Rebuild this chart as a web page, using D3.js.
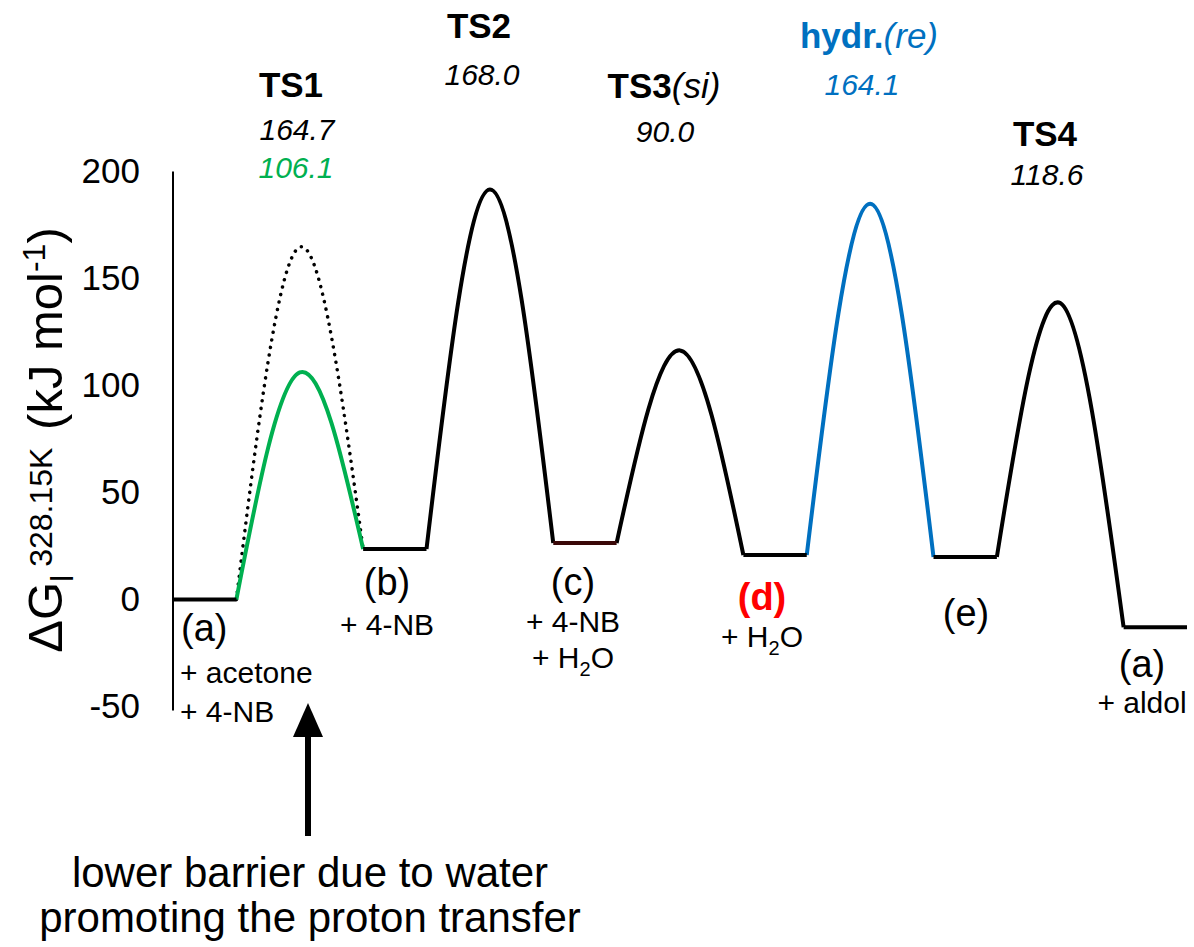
<!DOCTYPE html>
<html>
<head>
<meta charset="utf-8">
<script src="https://cdn.jsdelivr.net/npm/d3@7"></script>
<style>
  body { margin: 0; background: #fff; }
  text { font-family: "Liberation Sans", Arial, sans-serif; }
</style>
</head>
<body>
<div id="container"></div>
<script>
// intermediates (kJ/mol), in order along the reaction coordinate
const levelNames = ["(a)", "(b)", "(c)", "(d)", "(e)", "(a)"];
const levelEnergies = [0, 23.6, 26.4, 20.8, 19.9, -13.0];
const levelExtras = [["+ acetone", "+ 4-NB"], ["+ 4-NB"], ["+ 4-NB", "+ H|2|O"], ["+ H|2|O"], [], ["+ aldol"]];

// transition states: barrier measured from the preceding intermediate
const tsNames = ["TS1", "TS2", "TS3", "hydr.", "TS4"];
const tsTags = ["", "", "(si)", "(re)", ""];
const tsBarriers = [164.7, 168.0, 90.0, 164.1, 118.6];
const ts1WaterBarrier = 106.1;

const yTicks = [-50, 0, 50, 100, 150, 200];

const w = 1194, h = 947;
const black = "#000", green = "#00B050", blue = "#0070C0", red = "#FF0000";
const tsColors = [black, black, black, blue, black];
const levelColors = [black, black, "#3a0808", black, black, black];

const svg = d3.select("#container").append("svg").attr("width", w).attr("height", h);

const xScale = d3.scaleLinear().domain([0, 16]).range([173, 1187]);
const yScale = d3.scaleLinear().domain([-50, 200]).range([706.5, 171.5]);

// y axis
const yAxis = d3.axisLeft(yScale).tickValues(yTicks).tickSize(0).tickPadding(33).tickFormat(d => String(d));
const yAxisGroup = svg.append("g").attr("transform", `translate(${xScale(0)},0)`).call(yAxis);
yAxisGroup.select(".domain").remove();
yAxisGroup.selectAll("text").attr("font-size", 35).attr("font-family", "Liberation Sans, Arial").attr("fill", black);
yAxisGroup.append("line")
  .attr("y1", yScale(200)).attr("y2", yScale(-50) + 4)
  .attr("stroke", black).attr("stroke-width", 2);

// axis title
const title = svg.append("text")
  .attr("transform", `translate(62,440) rotate(-90)`)
  .attr("text-anchor", "middle").attr("font-size", 49).attr("fill", black);
title.append("tspan").text("ΔG");
title.append("tspan").attr("font-size", 32).attr("dy", 11).text("l");
title.append("tspan").attr("font-size", 32).attr("dx", 8).attr("dy", -21).text("328.15K");
title.append("tspan").attr("dx", 4).attr("dy", 10).text(" (kJ mol");
title.append("tspan").attr("font-size", 32).attr("dy", -17).text("-1");
title.append("tspan").attr("dy", 17).text(")");

const line = d3.line().x(d => xScale(d[0])).y(d => yScale(d[1])).curve(d3.curveNatural);

// barrier curves
const barriers = tsBarriers.map((b, i) => [
  [3 * i + 1, levelEnergies[i]],
  [3 * i + 2, levelEnergies[i] + b],
  [3 * i + 3, levelEnergies[i + 1]]
]);

// uncatalysed TS1 (dotted)
svg.append("path")
  .attr("d", line(barriers[0]))
  .attr("fill", "none").attr("stroke", black).attr("stroke-width", 3.5)
  .attr("stroke-linecap", "round").attr("stroke-dasharray", "0.1 7.6");

// water-assisted TS1
svg.append("path")
  .attr("d", line([barriers[0][0], [2, levelEnergies[0] + ts1WaterBarrier], barriers[0][2]]))
  .attr("fill", "none").attr("stroke", green).attr("stroke-width", 4);

svg.selectAll(".barrier")
  .data(barriers.slice(1))
  .enter().append("path")
  .attr("class", "barrier")
  .attr("d", d => line(d))
  .attr("fill", "none")
  .attr("stroke", (d, i) => tsColors[i + 1])
  .attr("stroke-width", 4);

// intermediate plateaus
svg.selectAll(".level")
  .data(levelEnergies)
  .enter().append("line")
  .attr("class", "level")
  .attr("x1", (d, i) => xScale(3 * i))
  .attr("x2", (d, i) => xScale(3 * i + 1))
  .attr("y1", d => yScale(d)).attr("y2", d => yScale(d))
  .attr("stroke", (d, i) => levelColors[i])
  .attr("stroke-width", 4);

// intermediate labels
const levelLabelPos = [[181, 641], [387, 595], [573, 595], [762, 610], [966, 626], [1142, 677]];
const extraRows = [[683, 722], [635], [632, 668], [647], [], [713]];

levelNames.forEach((name, i) => {
  const [lx, ly] = levelLabelPos[i];
  const anchor = i === 0 ? "start" : "middle";
  svg.append("text")
    .attr("x", lx).attr("y", ly).attr("text-anchor", anchor)
    .attr("font-size", 38)
    .attr("font-weight", i === 3 ? "bold" : "normal")
    .attr("fill", i === 3 ? red : black)
    .text(name);
  levelExtras[i].forEach((s, j) => {
    const t = svg.append("text")
      .attr("x", i === 0 ? lx - 1 : lx).attr("y", extraRows[i][j])
      .attr("text-anchor", anchor).attr("font-size", 30).attr("fill", black);
    const parts = s.split("|");
    t.append("tspan").text(parts[0]);
    if (parts.length > 1) {
      t.append("tspan").attr("font-size", 20).attr("dy", 8).text(parts[1]);
      t.append("tspan").attr("dy", -8).text(parts[2]);
    }
  });
});

// transition state labels
const tsLabelPos = [[291, 97], [479, 38], [664, 98], [869, 48], [1045, 146]];
const tsValuePos = [[297, 140], [482, 85], [665, 142], [862, 95], [1047, 185]];
const fmt = d3.format(".1f");

tsNames.forEach((name, i) => {
  const col = i === 3 ? blue : black;
  const t = svg.append("text")
    .attr("x", tsLabelPos[i][0]).attr("y", tsLabelPos[i][1])
    .attr("text-anchor", "middle").attr("font-size", 35).attr("fill", col);
  t.append("tspan").attr("font-weight", "bold").text(name);
  if (tsTags[i]) t.append("tspan").attr("font-style", "italic").text(tsTags[i]);
  svg.append("text")
    .attr("x", tsValuePos[i][0]).attr("y", tsValuePos[i][1])
    .attr("text-anchor", "middle").attr("font-size", 30).attr("font-style", "italic")
    .attr("fill", col).text(fmt(tsBarriers[i]));
});
svg.append("text")
  .attr("x", 296).attr("y", 178)
  .attr("text-anchor", "middle").attr("font-size", 30).attr("font-style", "italic")
  .attr("fill", green).text(fmt(ts1WaterBarrier));

// arrow + note
const ax = 308;
svg.append("line")
  .attr("x1", ax).attr("x2", ax).attr("y1", 836).attr("y2", 730)
  .attr("stroke", black).attr("stroke-width", 6);
svg.append("path")
  .attr("d", `M${ax},703 L${ax - 15},737 L${ax + 15},737 Z`)
  .attr("fill", black);

const note = svg.append("text").attr("text-anchor", "middle").attr("font-size", 42).attr("fill", black);
note.append("tspan").attr("x", 310).attr("y", 887).text("lower barrier due to water");
note.append("tspan").attr("x", 310).attr("y", 932).text("promoting the proton transfer");
</script>
</body>
</html>
